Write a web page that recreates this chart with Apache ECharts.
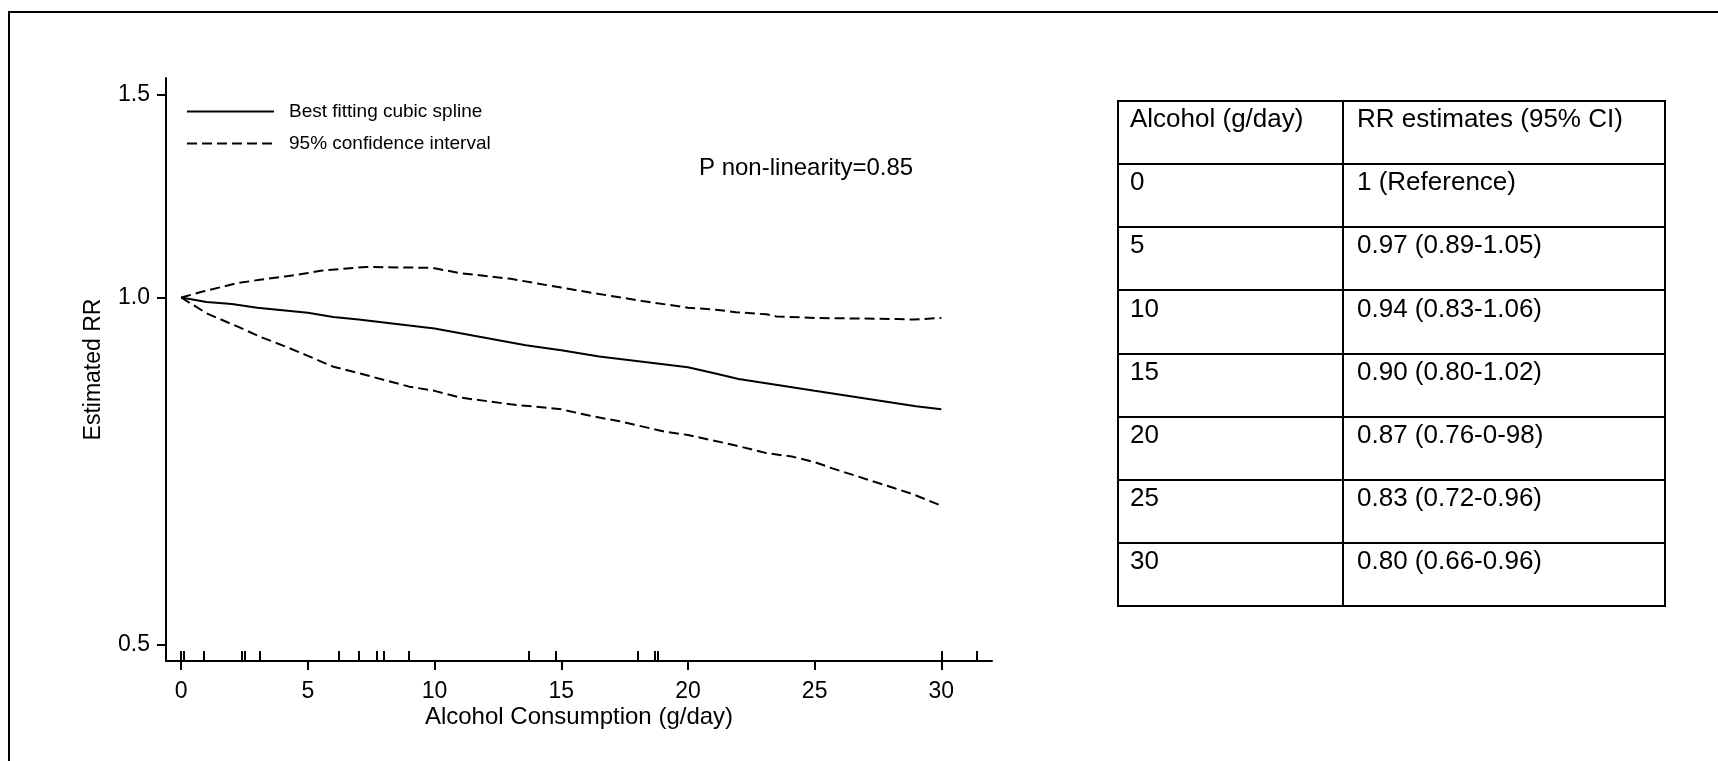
<!DOCTYPE html>
<html>
<head>
<meta charset="utf-8">
<script src="https://cdn.jsdelivr.net/npm/echarts@6/dist/echarts.min.js"></script>
<style>
  html, body { margin: 0; padding: 0; background: #fff; }
  #chart { width: 1718px; height: 761px; }
</style>
</head>
<body>
<div id="chart"></div>
<script>
// ---- data ----
// Fitted dose-response (restricted cubic spline) for alcohol intake vs RR
const splineX  = [0, 1.0, 2.0, 3.0, 4.0, 5, 6.0, 7.0, 10, 13.6, 15, 16.5, 20, 21.0, 22.0, 25, 29.0, 30];
const splineRR = [1.0, 0.991, 0.987, 0.980, 0.975, 0.97, 0.962, 0.957, 0.94, 0.909, 0.90, 0.889, 0.87, 0.860, 0.850, 0.83, 0.805, 0.80];

const upperX  = [0, 0.85, 2.2, 3.1, 4.1, 5, 5.5, 7.3, 8.6, 9.8, 10, 11.0, 13.0, 15, 16.5, 18.2, 20, 21.1, 21.9, 23.1, 23.5, 25, 28.3, 28.9, 30];
const upperRR = [1.0, 1.012, 1.029, 1.036, 1.043, 1.05, 1.055, 1.063, 1.062, 1.061, 1.06, 1.05, 1.038, 1.02, 1.007, 0.993, 0.98, 0.976, 0.971, 0.967, 0.963, 0.96, 0.958, 0.957, 0.96];

const lowerX  = [0, 1.0, 2.3, 3.1, 4.1, 5, 6.0, 7.0, 9.0, 10, 11.0, 13.0, 15, 16.1, 17.3, 19.1, 20, 21.8, 23.1, 24.1, 25, 25.7, 28.1, 28.9, 30];
const lowerRR = [1.0, 0.969, 0.942, 0.925, 0.907, 0.89, 0.871, 0.860, 0.837, 0.83, 0.819, 0.808, 0.80, 0.79, 0.781, 0.765, 0.76, 0.745, 0.733, 0.728, 0.72, 0.711, 0.684, 0.675, 0.66];

// Observed exposure levels shown as a rug along the x axis
const rugX = [0, 0.1, 0.9, 2.4, 2.5, 3.1, 6.2, 7.0, 7.7, 8.0, 9.0, 13.7, 14.8, 18.0, 18.7, 18.8, 30, 31.4];

// Axis ticks
const xTicks = [0, 5, 10, 15, 20, 25, 30];
const yTicks = [0.5, 1.0, 1.5];

// Summary table
const tableHeader = ['Alcohol (g/day)', 'RR estimates (95% CI)'];
const alcoholLevels = ['0', '5', '10', '15', '20', '25', '30'];
const rrEstimates = ['1 (Reference)', '0.97 (0.89-1.05)', '0.94 (0.83-1.06)', '0.90 (0.80-1.02)',
                     '0.87 (0.76-0-98)', '0.83 (0.72-0.96)', '0.80 (0.66-0.96)'];

const pValueText = 'P non-linearity=0.85';

// ---- rendering ----
const FONT = '"Liberation Sans", Arial, Helvetica, sans-serif';
const BLACK = '#000';
const pairs = (xs, ys) => xs.map((x, i) => [x, ys[i]]);

// table geometry
const tbl = { left: 1118, right: 1665, top: 101, rowH: 63.15, split: 1343, font: 26 };

function tableGraphics() {
  const els = [];
  const rows = [tableHeader].concat(alcoholLevels.map((a, i) => [a, rrEstimates[i]]));
  const bottom = tbl.top + tbl.rowH * rows.length;
  for (let i = 0; i <= rows.length; i++) {
    const y = Math.round(tbl.top + tbl.rowH * i);
    els.push({ type: 'line', shape: { x1: tbl.left - 1, y1: y, x2: tbl.right + 1, y2: y },
               style: { stroke: BLACK, lineWidth: 2 } });
  }
  [tbl.left, tbl.split, tbl.right].forEach(x => {
    els.push({ type: 'line', shape: { x1: x, y1: tbl.top, x2: x, y2: Math.round(bottom) },
               style: { stroke: BLACK, lineWidth: 2 } });
  });
  rows.forEach((r, i) => {
    const y = tbl.top + tbl.rowH * i + 19;
    els.push({ type: 'text', style: { text: r[0], x: tbl.left + 12, y: y, fill: BLACK,
               fontSize: tbl.font, fontFamily: FONT, align: 'left', verticalAlign: 'middle' } });
    els.push({ type: 'text', style: { text: r[1], x: tbl.split + 14, y: y, fill: BLACK,
               fontSize: tbl.font, fontFamily: FONT, align: 'left', verticalAlign: 'middle' } });
  });
  return els;
}

const chart = echarts.init(document.getElementById('chart'), null, { renderer: 'canvas' });

const axisLineStyle = { color: BLACK, width: 2 };

const option = {
  animation: false,
  backgroundColor: '#fff',
  grid: { left: 166, right: 726, top: 78, bottom: 100 },
  legend: {
    orient: 'vertical',
    left: 186,
    top: 102,
    padding: 0,
    itemWidth: 87,
    itemHeight: 20,
    itemGap: 13,
    selectedMode: false,
    itemStyle: { opacity: 0 },
    data: ['Best fitting cubic spline', '95% confidence interval'],
    textStyle: { color: BLACK, fontSize: 19, fontFamily: FONT, padding: [0, 0, 0, 10] }
  },
  xAxis: [
    {
      type: 'value', min: -0.6, max: 32, position: 'bottom',
      axisLine: { onZero: false, lineStyle: axisLineStyle },
      axisTick: { show: true, length: 9, customValues: xTicks, lineStyle: axisLineStyle },
      axisLabel: { customValues: xTicks, color: BLACK, fontSize: 23, fontFamily: FONT, margin: 19 },
      splitLine: { show: false },
      name: 'Alcohol Consumption (g/day)',
      nameLocation: 'middle',
      nameGap: 44,
      nameMoveOverlap: false,
      nameTextStyle: { color: BLACK, fontSize: 24, fontFamily: FONT }
    },
    {
      type: 'value', min: -0.6, max: 32, position: 'bottom', gridIndex: 0,
      axisLine: { show: false, onZero: false },
      axisTick: { show: true, inside: true, length: 10, customValues: rugX, lineStyle: axisLineStyle },
      axisLabel: { show: false },
      splitLine: { show: false }
    }
  ],
  yAxis: {
    type: 'log', min: 0.484, max: 1.55,
    axisLine: { show: true, onZero: false, lineStyle: axisLineStyle },
    axisTick: { show: true, length: 9, customValues: yTicks, lineStyle: axisLineStyle },
    axisLabel: { customValues: yTicks, formatter: v => Number(v).toFixed(1),
                 color: BLACK, fontSize: 23, fontFamily: FONT, margin: 16 },
    splitLine: { show: false },
    name: 'Estimated RR',
    nameLocation: 'middle',
    nameRotate: 90,
    nameGap: 61,
    nameTextStyle: { color: BLACK, fontSize: 23, fontFamily: FONT }
  },
  series: [
    {
      name: 'Best fitting cubic spline', type: 'line', symbol: 'none',
      data: pairs(splineX, splineRR),
      lineStyle: { color: BLACK, width: 2, type: 'solid' },
      itemStyle: { color: BLACK }
    },
    {
      name: '95% confidence interval', type: 'line', symbol: 'none',
      data: pairs(upperX, upperRR),
      lineStyle: { color: BLACK, width: 2, type: [10, 5] },
      itemStyle: { color: BLACK }
    },
    {
      name: '95% confidence interval', type: 'line', symbol: 'none',
      data: pairs(lowerX, lowerRR),
      lineStyle: { color: BLACK, width: 2, type: [10, 5] },
      itemStyle: { color: BLACK }
    }
  ],
  graphic: [
    // figure frame (left and top edges)
    { type: 'line', shape: { x1: 9, y1: 11, x2: 9, y2: 761 }, style: { stroke: BLACK, lineWidth: 2 } },
    { type: 'line', shape: { x1: 8, y1: 12, x2: 1718, y2: 12 }, style: { stroke: BLACK, lineWidth: 2 } },
    { type: 'text', style: { text: pValueText, x: 699, y: 168, fill: BLACK, fontSize: 24,
      fontFamily: FONT, align: 'left', verticalAlign: 'middle' } }
  ].concat(tableGraphics())
};

chart.setOption(option);
</script>
</body>
</html>
